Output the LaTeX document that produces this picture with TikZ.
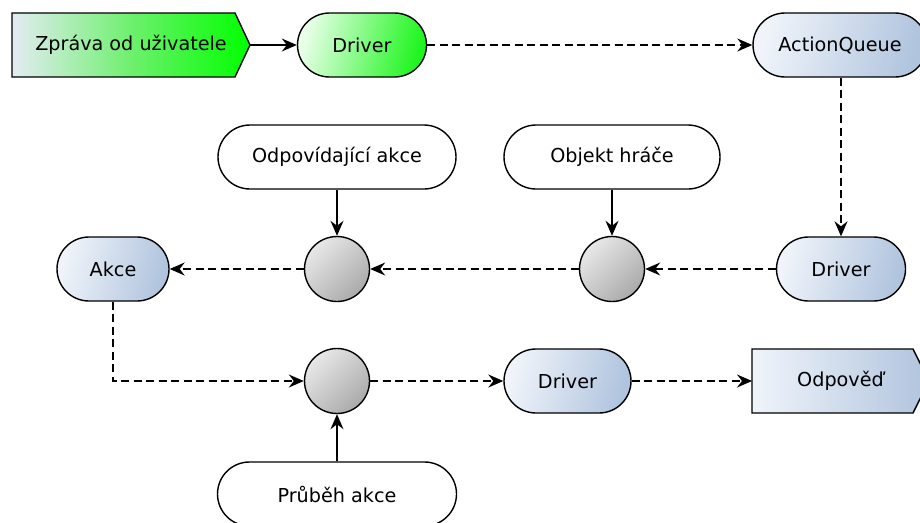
\documentclass[tikz,border=0pt]{standalone}
\usepackage{fontspec}
\setmainfont{DejaVu Sans}
\usetikzlibrary{shapes.misc,arrows.meta,calc}
\definecolor{bla}{RGB}{240,244,250}
\definecolor{blb}{RGB}{176,196,222}
\definecolor{gra}{RGB}{232,255,232}
\definecolor{grb}{RGB}{30,245,30}
\definecolor{zpa}{RGB}{228,236,244}
\definecolor{zpb}{RGB}{0,255,0}
\definecolor{gya}{RGB}{232,232,232}
\definecolor{gyb}{RGB}{170,170,170}
\begin{document}
\begin{tikzpicture}[x=1pt,y=-1pt,
  font=\fontsize{19.2pt}{23pt}\selectfont,
  every path/.style={line width=1.4pt},
  rr/.style={rounded rectangle, draw, line width=1.4pt, minimum height=64pt, inner sep=0pt},
  bluebox/.style={rr, left color=bla, right color=blb, shading angle=75},
  greenbox/.style={rr, left color=gra, right color=grb, shading angle=75},
  whitebox/.style={rr, fill=white},
  joint/.style={circle, draw, line width=1.4pt, minimum size=65pt, inner sep=0pt,
    top color=gya, bottom color=gyb, shading angle=45},
  txt/.style={inner sep=0pt},
  arr/.style={-{Stealth[length=15pt,width=13pt,inset=5pt]}},
  dsh/.style={arr, dash pattern=on 8pt off 4.5pt}]
\useasboundingbox (0,0) rectangle (920,522);
% signal shapes
\path[draw, line width=1.4pt, left color=zpa, right color=zpb, middle color={rgb,255:red,110;green,240;blue,110}]
  (12,13) -- (235,13) -- (250,45) -- (235,77) -- (12,77) -- cycle;
\node[txt] (zpr) at (131,45) {Zpráva od uživatele};
\coordinate (zprtip) at (250,45);
\path[draw, line width=1.4pt, left color=bla, right color=blb]
  (752,349) -- (913,349) -- (929,381) -- (913,413) -- (752,413) -- cycle;
\node[txt] (odp) at (840.5,381) {Odpověď};
\coordinate (odpw) at (752,381);
% rounded boxes
\node[greenbox, minimum width=129pt] (drv1) at (362,45) {Driver};
\node[bluebox, minimum width=174pt] (aq) at (840,45) {ActionQueue};
\node[whitebox, minimum width=238pt] (oa) at (337,157) {Odpovídající akce};
\node[whitebox, minimum width=216pt] (oh) at (612,157) {Objekt hráče};
\node[bluebox, minimum width=112pt] (akce) at (113,269) {Akce};
\node[bluebox, minimum width=129pt] (drv2) at (841,269) {Driver};
\node[bluebox, minimum width=127pt] (drv3) at (567.5,381) {Driver};
\node[whitebox, minimum width=239pt] (pa) at (337,494) {Průběh akce};
% joints
\node[joint] (c1) at (337,269) {};
\node[joint] (c2) at (612,269) {};
\node[joint] (c3) at (337,381) {};
% connectors
\draw[arr] (zprtip) -- (drv1.west);
\draw[dsh] (drv1.east) -- (aq.west);
\draw[dsh] (drv2.north |- aq.south) -- (drv2.north);
\draw[dsh] (drv2.west) -- (c2.east);
\draw[dsh] (c2.west) -- (c1.east);
\draw[dsh] (c1.west) -- (akce.east);
\draw[arr] (oa.south) -- (c1.north);
\draw[arr] (c2.north |- oh.south) -- (c2.north);
\draw[dsh] (akce.south) |- (c3.west);
\draw[arr] (pa.north) -- (c3.south);
\draw[dsh] (c3.east) -- (drv3.west);
\draw[dsh] (drv3.east) -- (odpw);
\end{tikzpicture}
\end{document}
